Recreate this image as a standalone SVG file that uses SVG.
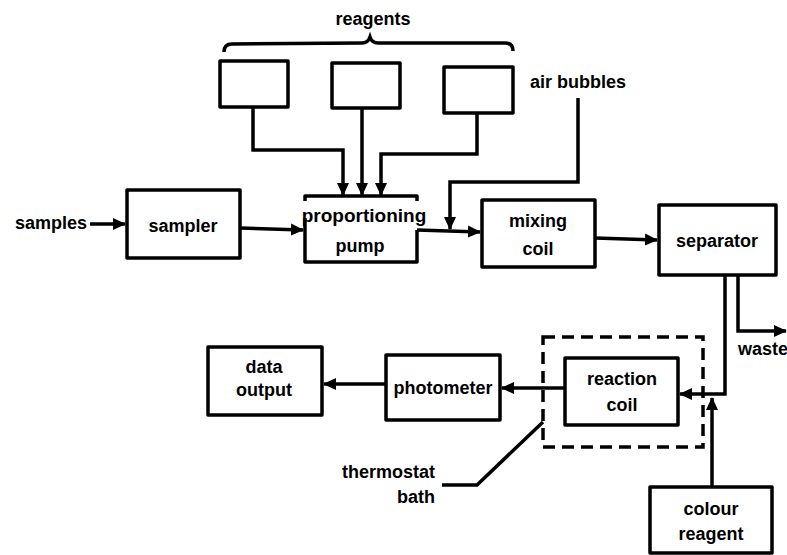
<svg xmlns="http://www.w3.org/2000/svg" width="787" height="555" viewBox="0 0 787 555">
<style>
.box{fill:none;stroke:#000;stroke-width:3.5;stroke-linejoin:round}
.dash{fill:none;stroke:#000;stroke-width:3.5;stroke-dasharray:12 7}
.ln{fill:none;stroke:#000;stroke-width:3.5;stroke-linejoin:miter}
.arr{marker-end:url(#ah)}
text{font-family:"Liberation Sans",Arial,sans-serif;font-weight:bold;font-size:18px;fill:#000}
.c{text-anchor:middle}
</style>
<defs>
<marker id="ah" markerWidth="14" markerHeight="14" refX="12" refY="7" orient="auto" markerUnits="userSpaceOnUse">
<path d="M0,1 L13,7 L0,13 Z" fill="#000"/>
</marker>
</defs>
<rect width="787" height="555" fill="#fff"/>

<g id="reagents-label">
<text class="c" x="373" y="25">reagents</text>
<path class="ln" stroke-width="3" d="M224,52 Q224,44 232,44 L362,43 Q368,43 370,37 Q372,43 378,43 L505,43 Q513,43 513,51"/>
</g>
<g id="reagent1"><rect class="box" x="220" y="61" width="68" height="46"/></g>
<g id="reagent2"><rect class="box" x="332" y="63" width="68" height="45"/></g>
<g id="reagent3"><rect class="box" x="444" y="67" width="69" height="46"/></g>

<g id="samples"><text x="15" y="229">samples</text></g>
<g id="sampler"><rect class="box" x="127" y="190" width="113" height="68"/><text class="c" x="183" y="232">sampler</text></g>

<g id="pump">
<path class="box" d="M305,201 V196 H417 V201"/>
<path class="box" d="M305,218 V262 H417 V230"/>
<text class="c" x="364" y="222" style="font-size:19px">proportioning</text>
<text class="c" x="360" y="252">pump</text>
</g>

<g id="air-bubbles"><text x="530" y="88">air bubbles</text></g>
<g id="mixing-coil"><rect class="box" x="482" y="200" width="113" height="67"/><text class="c" x="538" y="227">mixing</text><text class="c" x="538" y="255">coil</text></g>
<g id="separator"><rect class="box" x="659" y="205" width="117" height="70"/><text class="c" x="717" y="247">separator</text></g>
<g id="waste"><text x="738" y="355">waste</text></g>

<g id="data-output"><rect class="box" x="208" y="347" width="114" height="68"/><text class="c" x="264" y="373">data</text><text class="c" x="264" y="396">output</text></g>
<g id="photometer"><rect class="box" x="386" y="355" width="114" height="65"/><text class="c" x="443" y="394">photometer</text></g>
<g id="thermostat-bath">
<rect class="dash" x="543" y="337" width="160" height="110"/>
<text x="435" y="478" text-anchor="end">thermostat</text>
<text x="435" y="503" text-anchor="end">bath</text>
</g>
<g id="reaction-coil"><rect class="box" x="565" y="358" width="113" height="67"/><text class="c" x="622" y="385">reaction</text><text class="c" x="622" y="411">coil</text></g>
<g id="colour-reagent"><rect class="box" x="650" y="487" width="122" height="66"/><text class="c" x="711" y="515">colour</text><text class="c" x="711" y="540">reagent</text></g>

<g id="connectors">
<path class="ln arr" d="M90,224 H125"/>
<path class="ln arr" d="M240,228 L303,230"/>
<path class="ln arr" d="M253,107 V150 H343 V195"/>
<path class="ln arr" d="M362,108 V195"/>
<path class="ln arr" d="M477,113 V154 H381 V195"/>
<path class="ln arr" d="M417,230 L480,232"/>
<path class="ln arr" d="M578,98 V182 H450 V229"/>
<path class="ln arr" d="M595,238 L657,240"/>
<path class="ln arr" d="M725,275 V394 H680"/>
<path class="ln arr" d="M738,275 V331 H786"/>
<path class="ln arr" d="M712,487 V398"/>
<path class="ln arr" d="M565,388 H502"/>
<path class="ln arr" d="M386,384 H324"/>
<path class="ln" d="M442,485 H477 L543,422"/>
</g>
</svg>
